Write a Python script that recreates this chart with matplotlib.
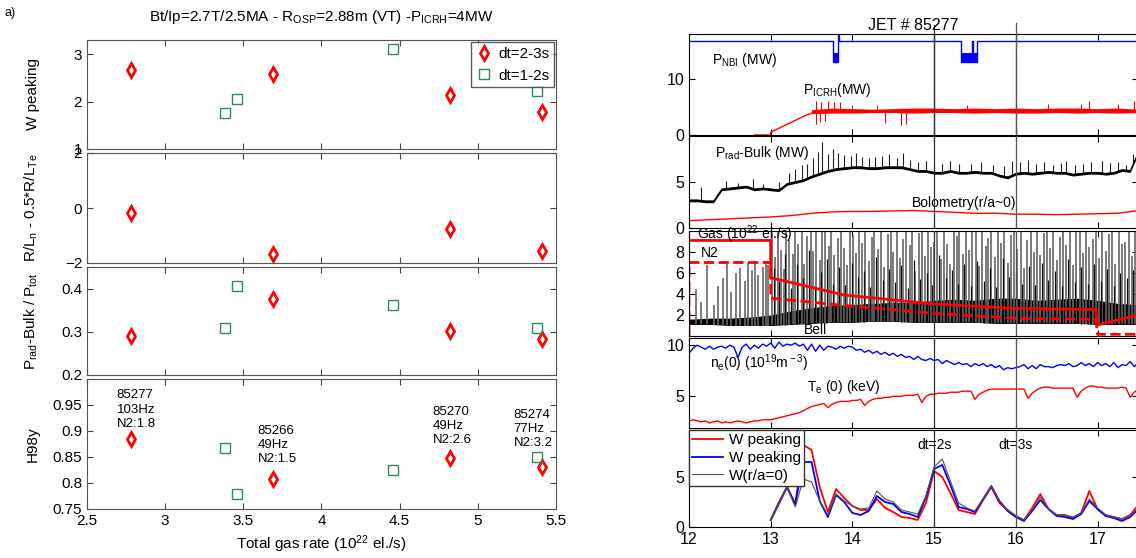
import numpy as np
import matplotlib.pyplot as plt

plt.rcParams['font.family'] = ['Liberation Sans', 'DejaVu Sans']
plt.rcParams['mathtext.fontset'] = 'custom'
plt.rcParams['mathtext.rm'] = 'Liberation Sans'
plt.rcParams['mathtext.it'] = 'Liberation Sans:italic'
plt.rcParams['xtick.direction'] = 'in'
plt.rcParams['ytick.direction'] = 'in'
plt.rcParams['xtick.top'] = True
plt.rcParams['ytick.right'] = True

# ---- left: scan over gas rate ----
gas_red = [2.78, 3.69, 4.82, 5.41]      # dt=2-3s
gas_green = [3.38, 3.46, 4.46, 5.38]    # dt=1-2s
wpk_red = [2.66, 2.59, 2.13, 1.79]
wpk_green = [1.75, 2.06, 3.10, 2.23]
rln_red = [-0.18, -1.69, -0.77, -1.57]
prad_red = [0.290, 0.375, 0.302, 0.283]
prad_green = [0.309, 0.405, 0.362, 0.308]
h98_red = [0.885, 0.808, 0.849, 0.830]
h98_green = [0.867, 0.778, 0.825, 0.850]
shot_labels = ["85277\n103Hz\nN2:1.8", "85266\n49Hz\nN2:1.5",
               "85270\n49Hz\nN2:2.6", "85274\n77Hz\nN2:3.2"]
shot_x = [2.69, 3.59, 4.71, 5.23]
shot_y = [0.980, 0.912, 0.949, 0.943]

# ---- right: JET 85277 time traces ----
nbi_t = [12.0, 13.76, 13.76, 13.82, 13.82, 13.84, 13.84, 15.33, 15.33, 15.47, 15.47, 15.48, 15.48, 15.52, 15.52, 17.5]
nbi_v = [16.8, 16.8, 13.0, 13.0, 17.8, 17.8, 16.8, 16.8, 13.0, 13.0, 16.8, 16.8, 13.0, 13.0, 16.8, 16.8]
nbi_dip_start = [13.76, 15.33]
nbi_dip_end = [13.82, 15.52]

icrh_ramp_t = [12.8, 13.0, 13.0, 13.1, 13.2, 13.3, 13.4, 13.5]
icrh_ramp_v = [0.0, 0.0, 0.5, 1.2, 1.9, 2.6, 3.3, 3.9]
icrh_t = [13.5, 13.75, 14.0, 14.25, 14.5, 14.75, 15.0, 15.25, 15.5, 15.75, 16.0, 16.25, 16.5, 16.75, 17.0, 17.25, 17.5]
icrh_lo = [3.8, 3.9, 3.9, 4.0, 4.0, 3.9, 4.0, 4.0, 3.9, 4.0, 3.9, 3.9, 4.0, 3.9, 4.0, 3.9, 4.0]
icrh_hi = [4.5, 4.8, 4.7, 4.6, 4.7, 4.8, 4.8, 4.7, 4.8, 4.7, 4.8, 4.7, 4.8, 4.8, 4.7, 4.8, 4.6]
icrh_spk_t = [13.55, 13.62, 13.7, 13.78, 13.85, 14.0, 14.3, 15.4, 16.4, 16.8, 16.9, 17.25, 17.45,
              13.56, 13.6, 13.66, 14.4, 14.6, 14.65]
icrh_spk_v = [6.0, 5.8, 6.1, 5.9, 5.8, 5.4, 5.3, 5.4, 5.5, 5.5, 6.1, 5.6, 6.0,
              2.0, 2.3, 2.5, 2.2, 1.8, 2.0]

prad_t = [12.0, 12.1, 12.2, 12.3, 12.4, 12.5, 12.6, 12.7, 12.8, 12.9,
          13.0, 13.1, 13.2, 13.3, 13.4, 13.5, 13.6, 13.7, 13.8, 13.9,
          14.0, 14.1, 14.2, 14.3, 14.4, 14.5, 14.6, 14.7, 14.8, 14.9,
          15.0, 15.1, 15.2, 15.3, 15.4, 15.5, 15.6, 15.7, 15.8, 15.9,
          16.0, 16.1, 16.2, 16.3, 16.4, 16.5, 16.6, 16.7, 16.8, 16.9,
          17.0, 17.1, 17.2, 17.3, 17.4, 17.5]
prad_v = [3.0, 3.0, 2.9, 2.9, 4.2, 4.3, 4.4, 4.5, 4.2, 4.3,
          4.2, 4.1, 4.8, 5.0, 5.2, 5.6, 5.9, 6.2, 6.4, 6.5,
          6.6, 6.6, 6.5, 6.5, 6.6, 6.6, 6.6, 6.4, 6.2, 6.2,
          6.0, 6.0, 6.2, 6.0, 6.0, 6.1, 6.0, 6.0, 5.7, 5.5,
          5.9, 6.0, 5.9, 6.0, 6.1, 6.0, 6.0, 5.8, 5.9, 6.0,
          6.0, 5.9, 6.0, 6.3, 6.2, 8.2]
prad_spk_t = [12.15, 12.45, 12.6, 12.78, 12.9, 13.1, 13.22, 13.3, 13.38, 13.45, 13.52, 13.58, 13.63,
              13.7, 13.76, 13.82, 13.9, 13.98, 14.05, 14.12, 14.2, 14.28, 14.36, 14.45, 14.55, 14.62,
              14.7, 14.8, 14.9, 15.0, 15.1, 15.2, 15.3, 15.45, 15.58, 15.72, 15.85, 15.95, 16.05,
              16.15, 16.25, 16.35, 16.45, 16.55, 16.62, 16.72, 16.82, 16.92, 17.05, 17.15, 17.25,
              17.35, 17.44]
prad_spk_v = [4.5, 5.1, 4.9, 5.3, 4.8, 5.0, 6.0, 6.4, 6.8, 7.0, 7.6, 8.3, 9.4,
              8.0, 8.6, 8.2, 7.9, 7.8, 8.1, 7.7, 7.6, 7.7, 7.8, 8.0, 7.6, 8.2,
              7.4, 7.2, 7.3, 6.8, 7.0, 7.3, 7.0, 7.0, 7.2, 6.8, 6.7, 7.3, 7.2,
              7.4, 7.0, 7.2, 6.9, 7.1, 7.3, 6.9, 7.0, 7.2, 7.3, 7.1, 7.2,
              6.9, 8.0]
bolo_t = [12.0, 12.25, 12.5, 12.75, 13.0, 13.25, 13.5, 13.75, 14.0, 14.25, 14.5, 14.75,
          15.0, 15.25, 15.5, 15.75, 16.0, 16.25, 16.5, 16.75, 17.0, 17.25, 17.5]
bolo_v = [0.8, 0.9, 1.0, 1.1, 1.2, 1.35, 1.6, 1.75, 1.8, 1.8, 1.85, 1.9,
          1.8, 1.7, 1.6, 1.6, 1.5, 1.5, 1.45, 1.5, 1.55, 1.6, 1.9]

gas_t = [12.0, 12.25, 12.5, 12.75, 13.0, 13.25, 13.5, 13.75, 14.0, 14.25, 14.5, 14.75,
         15.0, 15.25, 15.5, 15.75, 16.0, 16.25, 16.5, 16.75, 17.0, 17.25, 17.5]
gas_lo = [1.1, 1.1, 1.0, 1.0, 1.0, 1.1, 1.2, 1.3, 1.3, 1.4, 1.4, 1.3,
          1.3, 1.3, 1.3, 1.2, 1.2, 1.2, 1.2, 1.2, 1.1, 1.1, 1.1]
gas_hi = [1.6, 1.7, 1.7, 1.8, 2.0, 2.4, 2.7, 2.9, 3.0, 3.1, 3.2, 3.2,
          3.4, 3.5, 3.4, 3.6, 3.6, 3.4, 3.5, 3.6, 3.4, 3.1, 3.0]
gas_spk_t = [12.08, 12.15, 12.22, 12.3, 12.36, 12.42, 12.47, 12.52, 12.58, 12.63, 12.68, 12.72,
             12.77, 12.81, 12.85, 12.9, 12.94, 12.97,
             13.02, 13.05, 13.09, 13.12, 13.16, 13.19, 13.23, 13.27, 13.3, 13.34, 13.38, 13.41,
             13.45, 13.49, 13.52, 13.56, 13.6, 13.63, 13.67, 13.71, 13.74, 13.78, 13.82, 13.86,
             13.9, 13.93, 13.97, 14.01, 14.05, 14.08, 14.12, 14.16, 14.2, 14.24, 14.27, 14.31,
             14.35, 14.39, 14.43, 14.47, 14.5, 14.54, 14.58, 14.62, 14.66, 14.7, 14.73, 14.77,
             14.81, 14.85, 14.89, 14.93, 14.96, 15.0, 15.04, 15.08, 15.12, 15.16, 15.2, 15.24,
             15.28, 15.31, 15.35, 15.39, 15.43, 15.47, 15.51, 15.55, 15.59, 15.63, 15.66, 15.7,
             15.74, 15.78, 15.82, 15.86, 15.9, 15.94, 15.98, 16.02, 16.06, 16.1, 16.14, 16.18,
             16.22, 16.26, 16.3, 16.34, 16.38, 16.42, 16.46, 16.5, 16.54, 16.58, 16.62, 16.66,
             16.7, 16.74, 16.78, 16.82, 16.86, 16.9, 16.94, 16.98, 17.02, 17.06, 17.1, 17.14,
             17.18, 17.22, 17.26, 17.3, 17.34, 17.38, 17.42, 17.46]
gas_spk_v = [4.5, 3.2, 6.8, 3.0, 4.8, 5.5, 6.9, 4.2, 6.0, 6.5, 5.2, 7.0,
             6.3, 7.1, 5.8, 6.6, 7.0, 6.8,
             9.8, 7.5, 10, 8.2, 6.4, 10, 9.1, 7.8, 10, 8.8, 10, 6.9,
             9.5, 10, 8.1, 10, 7.2, 9.9, 10, 8.6, 10, 7.7, 9.3, 10,
             8.4, 6.8, 10, 9.6, 7.9, 10, 8.9, 10, 7.1, 9.4, 10, 8.3,
             10, 6.6, 9.7, 10, 8.0, 10, 7.4, 9.2, 10, 8.7, 10, 6.2,
             9.8, 10, 7.6, 10, 8.5, 9.0, 10, 7.3, 10, 8.8, 6.9, 10,
             9.5, 10, 7.8, 10, 8.2, 9.9, 10, 6.7, 10, 8.6, 9.3, 10,
             7.5, 10, 8.9, 10, 7.0, 9.6, 10, 8.3, 10, 6.5, 9.1, 10,
             8.0, 10, 7.7, 9.8, 10, 8.4, 10, 7.2, 9.4, 10, 8.7, 10,
             6.8, 9.9, 10, 7.9, 10, 8.5, 9.2, 10, 7.4, 10, 8.1, 9.7,
             10, 6.9, 10, 8.8, 9.0, 10, 7.6, 10]
# shorter black spikes between the tall grey ones
gas_spk2_t = [13.035, 13.105, 13.175, 13.25, 13.32, 13.395, 13.47, 13.54, 13.615, 13.69, 13.76,
              13.84, 13.915, 13.99, 14.065, 14.14, 14.22, 14.29, 14.37, 14.45, 14.52, 14.6,
              14.68, 14.75, 14.83, 14.91, 14.98, 15.06, 15.14, 15.22, 15.295, 15.37, 15.45,
              15.53, 15.61, 15.68, 15.76, 15.84, 15.92, 16.0, 16.08, 16.16, 16.24, 16.32,
              16.4, 16.48, 16.56, 16.64, 16.72, 16.8, 16.88, 16.96, 17.04, 17.12, 17.2,
              17.28, 17.36, 17.44]
gas_spk2_v = [6.5, 5.2, 7.8, 4.6, 6.9, 5.5, 8.2, 4.8, 6.1, 7.3, 5.0,
              6.6, 4.9, 7.0, 5.6, 6.2, 4.7, 7.5, 5.3, 6.4, 5.1, 6.8,
              4.6, 7.2, 5.4, 6.0, 4.9, 7.7, 5.5, 6.3, 5.0, 6.9, 4.8,
              7.1, 5.2, 6.5, 4.7, 7.4, 5.6, 6.1, 5.0, 6.7, 4.9, 7.0,
              5.3, 6.2, 4.8, 7.3, 5.1, 6.6, 5.0, 6.9, 5.2, 6.4, 4.8,
              6.0, 5.5, 6.3]
n2_t = [12.0, 13.0, 13.0, 13.9, 15.0, 16.0, 16.98, 17.0, 17.5]
n2_v = [9.1, 9.1, 5.55, 3.9, 3.05, 2.63, 2.52, 1.05, 2.0]
bell_t = [12.0, 12.0, 13.0, 13.0, 13.85, 15.0, 16.0, 16.98, 17.0, 17.5]
bell_v = [0.0, 7.0, 7.0, 3.6, 2.95, 2.15, 1.68, 1.58, 0.16, 0.16]

tt = np.arange(111) * 0.05 + 12.0   # time base for ne / Te
ne_v = [9.2, 9.7, 10.0, 9.8, 9.6, 9.9, 9.6, 9.8, 9.9, 9.7, 10.0, 9.8, 8.8, 9.8, 10.1, 9.6, 10.0, 9.7, 10.1, 9.9,
        10.2, 9.7, 10.3, 9.9, 10.1, 10.0, 10.2, 9.9, 10.1, 9.5, 10.1, 9.4, 10.0, 9.5, 9.9, 9.8, 9.6, 9.9, 9.7, 9.9,
        9.8, 9.5, 9.6, 9.3, 9.5, 9.2, 9.4, 9.1, 9.3, 9.0, 9.2, 8.9, 9.1, 8.8, 8.9, 8.6, 8.9, 8.6, 8.5, 8.7,
        8.5, 8.6, 8.2, 8.5, 8.3, 8.1, 8.3, 8.1, 8.2, 7.9, 8.2, 8.0, 8.2, 7.9, 8.1, 7.8, 8.0, 7.6, 7.8, 7.7,
        7.8, 7.9, 8.1, 7.7, 8.0, 7.7, 8.1, 7.9, 7.9, 7.8, 8.0, 8.1, 8.0, 8.2, 7.9, 8.0, 8.3, 8.0, 8.2, 7.9,
        8.3, 8.0, 8.2, 7.9, 8.3, 7.8, 8.1, 8.0, 8.4, 7.9, 8.3]
te_v = [2.6, 2.7, 2.6, 2.5, 2.6, 2.4, 2.5, 2.6, 2.4, 2.5, 2.4, 2.5, 2.6, 2.5, 2.4, 2.5, 2.6, 2.6, 2.7, 2.7,
        2.7, 2.8, 2.9, 3.0, 3.1, 3.2, 3.3, 3.4, 3.6, 3.8, 4.0, 4.1, 4.2, 4.3, 3.9, 4.2, 4.4, 4.5, 4.5, 4.5,
        4.6, 4.6, 4.7, 4.1, 4.5, 4.7, 4.8, 4.8, 4.9, 4.9, 5.0, 5.0, 5.0, 5.1, 5.1, 5.1, 5.2, 4.4, 5.0, 5.2,
        5.2, 5.3, 5.3, 5.3, 5.4, 5.4, 5.4, 5.5, 5.5, 5.5, 4.7, 5.2, 5.4, 5.6, 5.7, 5.7, 5.7, 5.7, 5.7, 5.7,
        5.7, 5.7, 5.7, 4.8, 5.3, 5.6, 5.8, 5.9, 5.9, 5.8, 5.8, 5.8, 5.8, 5.8, 5.8, 4.9, 5.5, 5.8, 6.0, 6.0,
        5.9, 5.9, 5.8, 5.8, 5.8, 5.8, 5.9, 5.8, 4.9, 5.4, 5.7]

wt = np.arange(46) * 0.1 + 13.0    # W peaking time base
w_red = [0.7, 2.5, 4.0, 2.2, 8.2, 7.7, 4.0, 1.5, 3.8, 2.9, 2.1, 1.7, 1.7, 2.8, 1.9, 1.5, 1.0, 0.9, 0.7, 2.4,
         5.6, 5.0, 3.4, 1.7, 1.5, 1.3, 2.7, 4.0, 2.4, 1.7, 1.1, 0.7, 1.9, 3.3, 1.8, 1.2, 1.2, 0.9, 1.4, 3.6,
         1.8, 1.2, 1.0, 0.8, 1.2, 2.2]
w_blue = [0.7, 2.3, 4.0, 2.3, 6.5, 6.5, 2.6, 1.0, 3.2, 2.5, 1.4, 1.2, 1.6, 3.1, 2.5, 2.3, 1.5, 1.3, 1.0, 3.0,
          5.8, 6.2, 4.2, 2.0, 1.8, 1.5, 2.8, 4.1, 2.6, 1.6, 1.0, 0.6, 1.6, 2.7, 1.8, 1.1, 1.0, 0.8, 1.3, 2.6,
          1.8, 1.1, 0.9, 0.6, 1.0, 1.8]
w_axis = [0.7, 2.3, 4.0, 2.0, 4.8, 4.5, 2.6, 1.2, 3.3, 2.6, 2.1, 1.8, 1.9, 3.6, 2.8, 2.5, 1.7, 1.5, 1.3, 3.1,
          6.0, 6.8, 4.6, 2.4, 1.9, 1.6, 2.8, 4.1, 2.6, 1.7, 1.1, 0.7, 1.7, 3.0, 1.8, 1.2, 1.2, 1.0, 1.4, 2.8,
          1.9, 1.2, 1.0, 0.8, 1.1, 2.0]

fig = plt.figure(figsize=(11.36, 5.58), dpi=100)
W, H = 1136.0, 558.0

def pos(x0, x1, y0, y1):
    return [x0 / W, 1 - y1 / H, (x1 - x0) / W, (y1 - y0) / H]

red_kw = dict(ls='none', marker='d', ms=7.5, mfc='none', mec='#ff0000', mew=2)
grn_kw = dict(ls='none', marker='s', ms=7, mfc='none', mec='#2e8b57', mew=1)

left_rows = [(40, 149), (153, 263), (267, 375), (379, 509)]
lax = [fig.add_axes(pos(87, 556, a, b)) for a, b in left_rows]
for ax in lax:
    ax.set_xlim(2.5, 5.5)
    ax.set_xticks(np.arange(2.5, 5.6, 0.5))
    ax.tick_params(labelsize=11, color='#444444', length=4)
    for s in ax.spines.values():
        s.set_color('#555555')
    if ax is not lax[-1]:
        ax.set_xticklabels([])

ax = lax[0]
ax.plot(gas_red, wpk_red, label='dt=2-3s', **red_kw)
ax.plot(gas_green, wpk_green, label='dt=1-2s', **grn_kw)
ax.set_ylim(1, 3.3)
ax.set_yticks([1, 2, 3])
ax.set_ylabel('W peaking', fontsize=11)
ax.set_title(r'Bt/Ip=2.7T/2.5MA - R$_{\rm OSP}$=2.88m (VT) -P$_{\rm ICRH}$=4MW', fontsize=11, pad=14)
leg = ax.legend(loc='upper right', fontsize=11, fancybox=False, borderaxespad=0.15,
                handletextpad=0.3, handlelength=1.2, borderpad=0.3)
leg.get_frame().set_edgecolor('#333333')

ax = lax[1]
ax.plot(gas_red, rln_red, **red_kw)
ax.set_ylim(-2, 2)
ax.set_yticks([-2, 0, 2])
ax.set_ylabel(r'R/L$_{\rm n}$ - 0.5*R/L$_{\rm Te}$', fontsize=11)

ax = lax[2]
ax.plot(gas_red, prad_red, **red_kw)
ax.plot(gas_green, prad_green, **grn_kw)
ax.set_ylim(0.2, 0.45)
ax.set_yticks([0.2, 0.3, 0.4])
ax.set_ylabel(r'P$_{\rm rad}$-Bulk / P$_{\rm tot}$', fontsize=11)

ax = lax[3]
ax.plot(gas_red, h98_red, **red_kw)
ax.plot(gas_green, h98_green, **grn_kw)
ax.set_ylim(0.75, 1.0)
ax.set_yticks([0.75, 0.8, 0.85, 0.9, 0.95])
ax.set_yticklabels(['0.75', '0.8', '0.85', '0.9', '0.95'])
ax.set_ylabel('H98y', fontsize=11)
ax.set_xticklabels(['2.5', '3', '3.5', '4', '4.5', '5', '5.5'])
ax.set_xlabel(r'Total gas rate (10$^{\rm 22}$ el./s)', fontsize=11)
for s, x, y in zip(shot_labels, shot_x, shot_y):
    ax.text(x, y, s, fontsize=9.5, va='top', ha='left', linespacing=1.25)

for ax in lax:
    ax.yaxis.set_label_coords(-0.1, 0.5)

fig.text(0.004, 0.988, 'a)', fontsize=9, va='top')

# ---- right panels ----
right_rows = [(34, 135), (136, 228), (231, 336), (338, 428), (430, 527)]
rax = [fig.add_axes(pos(689, 689 + 5.5 * 81.7, a, b)) for a, b in right_rows]
for ax in rax:
    ax.set_xlim(12, 17.5)
    ax.set_xticks([12, 13, 14, 15, 16, 17])
    ax.tick_params(labelsize=11.5, length=4)
    ax.axvline(15, color='#333333', lw=0.9, zorder=5)
    ax.axvline(16, color='#555555', lw=0.9, zorder=5)
    if ax is not rax[-1]:
        ax.set_xticklabels([])
rax[0].axvline(15, ymax=1.09, color='#333333', lw=0.9, clip_on=False)
rax[0].axvline(16, ymax=1.11, color='#555555', lw=0.9, clip_on=False)

# R1 heating
ax = rax[0]
ax.plot(nbi_t, nbi_v, color='#0000ff', lw=1)
for a, b in zip(nbi_dip_start, nbi_dip_end):
    ax.fill_between([a, b], 13.0, 14.6, color='#0000ff', lw=0)
ax.plot(icrh_ramp_t, icrh_ramp_v, color='#ff0000', lw=1)
ax.fill_between(icrh_t, icrh_lo, icrh_hi, color='#ff0000', lw=0)
ax.vlines(icrh_spk_t, 4.3, icrh_spk_v, color='#ff0000', lw=0.8)
ax.set_ylim(0, 18)
ax.set_yticks([0, 10])
ax.text(12.28, 13.4, r'P$_{\rm NBI}$ (MW)', fontsize=10, va='center')
ax.text(13.4, 8.0, r'P$_{\rm ICRH}$(MW)', fontsize=10, va='center')
fig.text(913 / W, 1 - 25 / H, 'JET # 85277', fontsize=11.5, ha='center', va='center')

# R2 radiation
ax = rax[1]
ax.vlines(prad_spk_t, np.interp(prad_spk_t, prad_t, prad_v), prad_spk_v, color='#222222', lw=0.8)
ax.fill_between(prad_t, np.array(prad_v) - 0.15, np.array(prad_v) + 0.15, color='black', lw=0)
ax.plot(prad_t, prad_v, color='black', lw=0.8)
ax.plot(bolo_t, bolo_v, color='#ff0000', lw=1)
ax.set_ylim(0, 10)
ax.set_yticks([0, 5])
ax.text(12.32, 8.1, r'P$_{\rm rad}$-Bulk (MW)', fontsize=10, va='center')
ax.text(14.73, 2.7, 'Bolometry(r/a~0)', fontsize=10, va='center')

# R3 gas
ax = rax[2]
ax.vlines(gas_spk_t, np.interp(gas_spk_t, gas_t, gas_lo), gas_spk_v, color='#666666', lw=1.2)
ax.vlines(gas_spk2_t, np.interp(gas_spk2_t, gas_t, gas_lo), gas_spk2_v, color='#111111', lw=0.9)
ax.fill_between(gas_t, gas_lo, gas_hi, color='black', lw=0)
ax.plot(n2_t, n2_v, color='#ff0000', lw=2)
ax.plot(bell_t, bell_v, color='#ff0000', lw=2, ls='--')
ax.set_ylim(0, 10)
ax.set_yticks([2, 4, 6, 8])
ax.text(12.1, 9.7, r'Gas (10$^{\rm 22}$ el./s)', fontsize=10, va='center', zorder=6)
ax.text(12.15, 7.9, 'N2', fontsize=10, va='center')
ax.text(13.4, 0.6, 'Bell', fontsize=10, va='center')

# R4 density / temperature
ax = rax[3]
ax.plot(tt, ne_v, color='#0000ff', lw=1)
ax.plot(tt, te_v, color='#ff0000', lw=1)
ax.set_ylim(1.9, 10.7)
ax.set_yticks([5, 10])
ax.text(12.26, 8.2, r'n$_{\rm e}$(0) (10$^{\rm 19}$m$^{\rm -3}$)', fontsize=10, va='center')
ax.text(13.44, 5.9, r'T$_{\rm e}$ (0) (keV)', fontsize=10, va='center')

# R5 W peaking
ax = rax[4]
ax.plot(wt, w_red, color='#ff0000', lw=1.3, label='W peaking')
ax.plot(wt, w_blue, color='#0000ff', lw=1.3, label='W peaking')
ax.plot(wt, w_axis, color='#555555', lw=0.8, label='W(r/a=0)')
ax.set_ylim(0, 9.7)
ax.set_yticks([0, 5])
ax.text(15, 8.2, 'dt=2s', fontsize=10, ha='center', va='center')
ax.text(16, 8.2, 'dt=3s', fontsize=10, ha='center', va='center')
leg = ax.legend(loc='upper left', fontsize=11, fancybox=False, borderaxespad=0.0,
                handlelength=2.0, handletextpad=0.4, borderpad=0.2, labelspacing=0.25, framealpha=1)
leg.get_frame().set_edgecolor('#333333')
leg.set_zorder(10)

fig.savefig('out.png', dpi=100)
